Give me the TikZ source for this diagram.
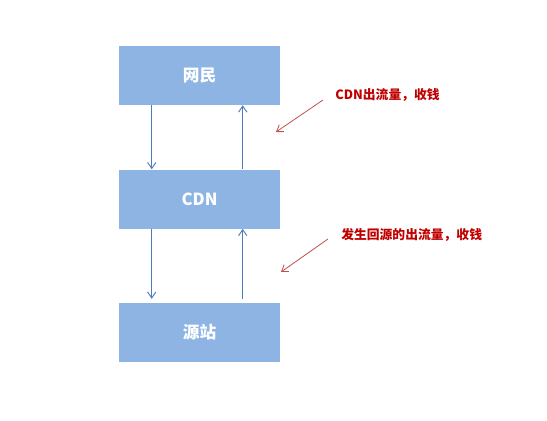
\documentclass[tikz,border=0pt]{standalone}
\usepackage{fontspec}
\setmainfont{Noto Sans CJK SC}
\usetikzlibrary{arrows.meta, positioning, calc}
\definecolor{boxBlue}{RGB}{142,180,227}
\definecolor{lineBlue}{RGB}{74,126,187}
\definecolor{noteRed}{RGB}{192,0,0}
\definecolor{arrowRed}{RGB}{192,80,77}

\begin{document}
\begin{tikzpicture}[
    x=0.75pt, y=-0.75pt,
    node distance=48pt,
    tier/.style={rectangle, fill=boxBlue, minimum width=120.75pt, minimum height=44.25pt, inner sep=0pt, text=white, font=\bfseries\fontsize{12.5}{14}\selectfont},
    flow/.style={-{Straight Barb[length=1.6mm, width=2.2mm]}, lineBlue, line width=0.7pt},
    note/.style={text=noteRed, font=\bfseries\fontsize{9.6}{11}\selectfont, inner sep=0pt, anchor=west},
    pointer/.style={-{Straight Barb[length=1.6mm, width=2.2mm]}, arrowRed, line width=0.6pt}
]
\useasboundingbox (0,0) rectangle (547,421);

% three tiers
\node[tier] (users) at (199.5,75.5) {网民};
\node[tier, below=48pt of users] (cdn) {CDN};
\node[tier, below=55.5pt of cdn] (origin) {源站};

% traffic between tiers
\draw[flow] ([xshift=24.75pt]users.south west) -- ([xshift=24.75pt]cdn.north west);
\draw[flow] ([xshift=93pt]cdn.north west) -- ([xshift=93pt]users.south west);
\draw[flow, shorten >=3pt] ([xshift=24.75pt]cdn.south west) -- ([xshift=24.75pt]origin.north west);
\draw[flow, shorten <=3pt] ([xshift=93pt]origin.north west) -- ([xshift=93pt]cdn.south west);

% billing notes
\node[note] (bill1) at (335,95) {CDN出流量，收钱};
\node[note] (bill2) at (341,235) {发生回源的出流量，收钱};
\coordinate (tip1) at (276,132);
\coordinate (tip2) at (281,272);
\draw[pointer] ($(bill1.west)+(-12,5)$) -- (tip1);
\draw[pointer] ($(bill2.west)+(-13,4)$) -- (tip2);

\end{tikzpicture}
\end{document}
